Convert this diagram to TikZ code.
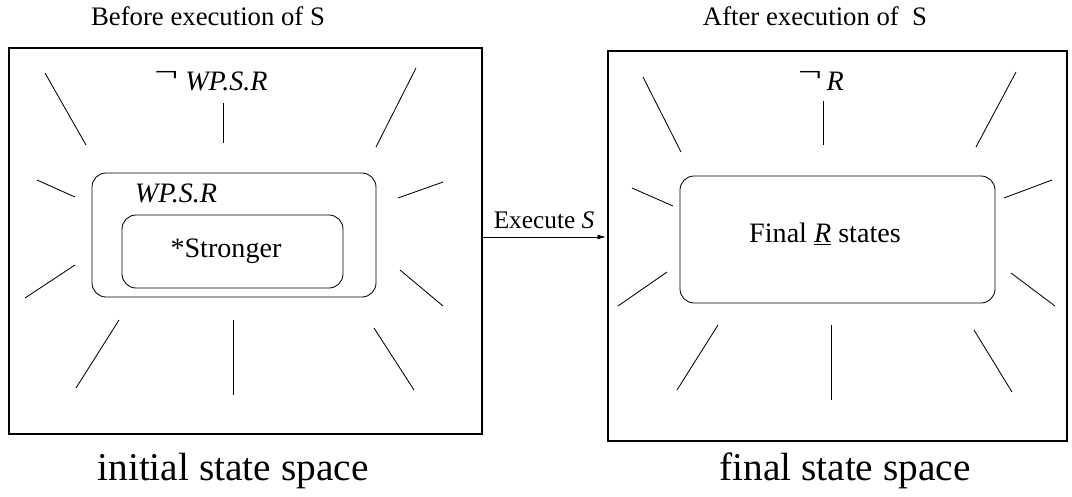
\documentclass[tikz,border=0pt]{standalone}
\usepackage{fontspec}
\setmainfont{Liberation Serif}
\usetikzlibrary{arrows.meta}
\newcommand{\tnon}{\raisebox{.3em}{\scalebox{1.5}[1]{¬}}}

\begin{document}
\begin{tikzpicture}[x=0.025cm,y=-0.025cm,line width=0.6pt,
	titre/.style={font=\fontsize{19}{22}\selectfont,anchor=base},
	texte/.style={font=\fontsize{20}{24}\selectfont,anchor=base},
	legende/.style={font=\fontsize{28}{32}\selectfont,anchor=base},
	boite/.style={draw,rounded corners=10pt}]
			%\draw[help lines] (0,0) grid[step=50] (1072,496);
			\useasboundingbox (0,0) rectangle (1072,496);

			%ESPACES
			\coordinate (a1) at (9,48);    \coordinate (a2) at (482,434);
			\coordinate (b1) at (608,51);  \coordinate (b2) at (1067,441);
			\draw[line width=0.8pt] (a1) rectangle (a2);
			\draw[line width=0.8pt] (b1) rectangle (b2);
			\node[titre] (avant) at (208,25) {Before execution of S};
			\node[titre] (apres) at (815,25) {After execution of \ S};
			\node[legende] (init) at (233,480) {initial state space};
			\node[legende] (fin) at (845,480) {final state space};

			%AVANT
			\draw[boite] (92,173) rectangle (376,297);
			\draw[boite] (122,215) rectangle (343,288);
			\node[texte] (nonwp) at (211,90) {\tnon\ \textit{WP.S.R}};
			\node[texte] (wp) at (176,202) {\textit{WP.S.R}};
			\node[texte] (fort) at (226,257) {*Stronger};
			\foreach \xa/\ya/\xb/\yb in {45/73/86/145, 223/103/223/143, 416/68/376/147,
				37/180/75/197, 398/198/443/182, 25/298/75/265, 400/270/443/306,
				119/320/76/388, 233/320/233/395, 374/328/414/390}
				\draw (\xa,\ya) -- (\xb,\yb);

			%APRES
			\draw[boite] (680,176) rectangle (995,303);
			\node[texte] (nonR) at (821,90) {\tnon\,\textit{R}};
			\node[texte] (Rfin) at (825,242) {Final \underline{\textit{R}} states};
			\foreach \xa/\ya/\xb/\yb in {643/77/681/152, 823/101/823/145, 1016/72/976/147,
				632/188/673/206, 1004/198/1052/180, 618/306/667/272, 1011/273/1055/306,
				718/325/677/390, 831/325/831/400, 974/330/1012/392}
				\draw (\xa,\ya) -- (\xb,\yb);

			%EXECUTION
			\coordinate (ex) at (482,237);
			\coordinate (ey) at (606,237);
			\draw[-{Latex[length=6pt,width=3.5pt]}] (ex) -- node[font=\fontsize{18}{22}\selectfont,above=2pt] (exec) {Execute \textit{S}} (ey);
\end{tikzpicture}
\end{document}
